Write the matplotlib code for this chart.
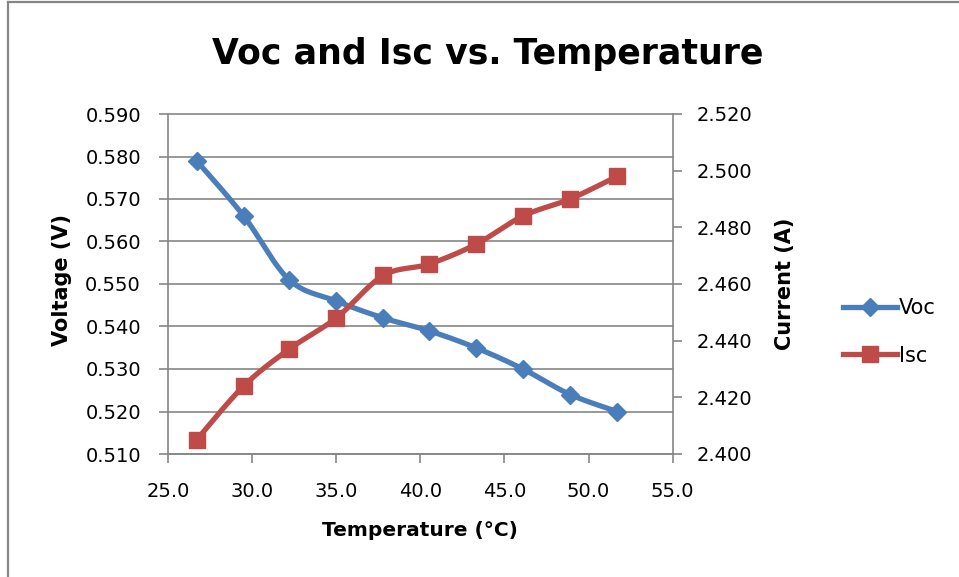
import numpy as np
import matplotlib
matplotlib.use("Agg")
import matplotlib.pyplot as plt
from matplotlib.lines import Line2D

# ---- data ----
temperature = [26.7, 29.5, 32.2, 35.0, 37.8, 40.5, 43.3, 46.1, 48.9, 51.7]
voc = [0.579, 0.566, 0.551, 0.546, 0.542, 0.539, 0.535, 0.530, 0.524, 0.520]
isc = [2.405, 2.424, 2.437, 2.448, 2.463, 2.467, 2.474, 2.484, 2.490, 2.498]
x_ticks = [25.0, 30.0, 35.0, 40.0, 45.0, 50.0, 55.0]
v_ticks = [0.510, 0.520, 0.530, 0.540, 0.550, 0.560, 0.570, 0.580, 0.590]
i_ticks = [2.400, 2.420, 2.440, 2.460, 2.480, 2.500, 2.520]

BLUE = "#4A7EBB"
RED = "#BE4B48"
GRID = "#868686"
FONT = "DejaVu Sans"


def smooth(xs, ys, xr, yr, n=30):
    """Excel-like smoothed line (Catmull-Rom Bezier) through the data points."""
    xs = np.asarray(xs, float) / xr
    ys = np.asarray(ys, float) / yr
    px, py = [], []
    m = len(xs)
    for i in range(m - 1):
        p0 = (xs[max(i - 1, 0)], ys[max(i - 1, 0)])
        p1 = (xs[i], ys[i])
        p2 = (xs[i + 1], ys[i + 1])
        p3 = (xs[min(i + 2, m - 1)], ys[min(i + 2, m - 1)])
        c1 = (p1[0] + (p2[0] - p0[0]) / 6, p1[1] + (p2[1] - p0[1]) / 6)
        c2 = (p2[0] - (p3[0] - p1[0]) / 6, p2[1] - (p3[1] - p1[1]) / 6)
        t = np.linspace(0, 1, n)
        bx = (1 - t) ** 3 * p1[0] + 3 * (1 - t) ** 2 * t * c1[0] + 3 * (1 - t) * t ** 2 * c2[0] + t ** 3 * p2[0]
        by = (1 - t) ** 3 * p1[1] + 3 * (1 - t) ** 2 * t * c1[1] + 3 * (1 - t) * t ** 2 * c2[1] + t ** 3 * p2[1]
        px.extend(bx)
        py.extend(by)
    return np.array(px) * xr, np.array(py) * yr


fig = plt.figure(figsize=(9.59, 5.77), dpi=100)
ax = fig.add_axes([168 / 959, 1 - 454 / 577, (672.7 - 168) / 959, (454 - 114) / 577])
ax2 = ax.twinx()

xlim = (25, 55)
vlim = (0.510, 0.590)
ilim = (2.400, 2.520)
ax.set_xlim(*xlim)
ax.set_ylim(*vlim)
ax2.set_ylim(*ilim)

ax.set_xticks(x_ticks)
ax.set_xticklabels([f"{v:.1f}" for v in x_ticks])
ax.set_yticks(v_ticks)
ax.set_yticklabels([f"{v:.3f}" for v in v_ticks])
ax2.set_yticks(i_ticks)
ax2.set_yticklabels([f"{v:.3f}" for v in i_ticks])

ax.grid(axis="y", color=GRID, linewidth=1.2)
ax.set_axisbelow(True)
for gl in ax.get_ygridlines():
    gl.set_clip_on(False)

for a in (ax, ax2):
    for s in a.spines.values():
        s.set_visible(False)
ax.spines["left"].set_visible(True)
ax.spines["bottom"].set_visible(True)
ax2.spines["right"].set_visible(True)
for s in (ax.spines["left"], ax.spines["bottom"], ax2.spines["right"]):
    s.set_color(GRID)
    s.set_linewidth(1.2)

ax.tick_params(axis="x", direction="out", length=6.5, width=1.2, color=GRID,
               labelsize=14, pad=14)
ax.tick_params(axis="y", direction="out", length=6.5, width=1.2, color=GRID,
               labelsize=14, pad=13)
ax2.tick_params(axis="y", direction="out", length=6.5, width=1.2, color=GRID,
                labelsize=14, pad=11)
for lab in ax.get_xticklabels() + ax.get_yticklabels() + ax2.get_yticklabels():
    lab.set_fontfamily(FONT)

# series
vx, vy = smooth(temperature, voc, xlim[1] - xlim[0], vlim[1] - vlim[0])
ix, iy = smooth(temperature, isc, xlim[1] - xlim[0], ilim[1] - ilim[0])
ax.plot(vx, vy, color=BLUE, linewidth=3.8, solid_capstyle="round", zorder=3)
ax.plot(temperature, voc, linestyle="none", marker="D", markersize=9.5,
        color=BLUE, markeredgecolor=BLUE, zorder=4)
ax2.plot(ix, iy, color=RED, linewidth=3.8, solid_capstyle="round", zorder=3)
ax2.plot(temperature, isc, linestyle="none", marker="s", markersize=12,
         color=RED, markeredgecolor=RED, zorder=4)

# titles / labels
fig.text(488 / 959, 1 - 54 / 577, "Voc and Isc vs. Temperature", ha="center",
         va="center", fontsize=25, fontweight="bold", family=FONT)
fig.text(62 / 959, 1 - 280 / 577, "Voltage (V)", rotation=90, ha="center",
         va="center", fontsize=15, fontweight="bold", family=FONT)
fig.text(785 / 959, 1 - 284 / 577, "Current (A)", rotation=90, ha="center",
         va="center", fontsize=15, fontweight="bold", family=FONT)
fig.text(420 / 959, 1 - 530 / 577, "Temperature (°C)", ha="center",
         va="center", fontsize=14.5, fontweight="bold", family=FONT)

# legend
handles = [
    Line2D([], [], color=BLUE, linewidth=3.8, marker="D", markersize=9.5),
    Line2D([], [], color=RED, linewidth=3.8, marker="s", markersize=12),
]
fig.legend(handles, ["Voc", "Isc"], loc="center left",
           bbox_to_anchor=(843 / 959, 1 - 332 / 577), frameon=False,
           prop={"family": FONT, "size": 15}, handlelength=2.6,
           handletextpad=0.1, labelspacing=1.3, borderpad=0,
           borderaxespad=0)

# chart-area border (top and left visible)
fig.add_artist(Line2D([8 / 959, 8 / 959], [0, 1 - 2 / 577], color=GRID,
                      linewidth=1.6, transform=fig.transFigure))
fig.add_artist(Line2D([8 / 959, 1], [1 - 2 / 577, 1 - 2 / 577], color=GRID,
                      linewidth=1.6, transform=fig.transFigure))

fig.savefig("out.png", dpi=100)
